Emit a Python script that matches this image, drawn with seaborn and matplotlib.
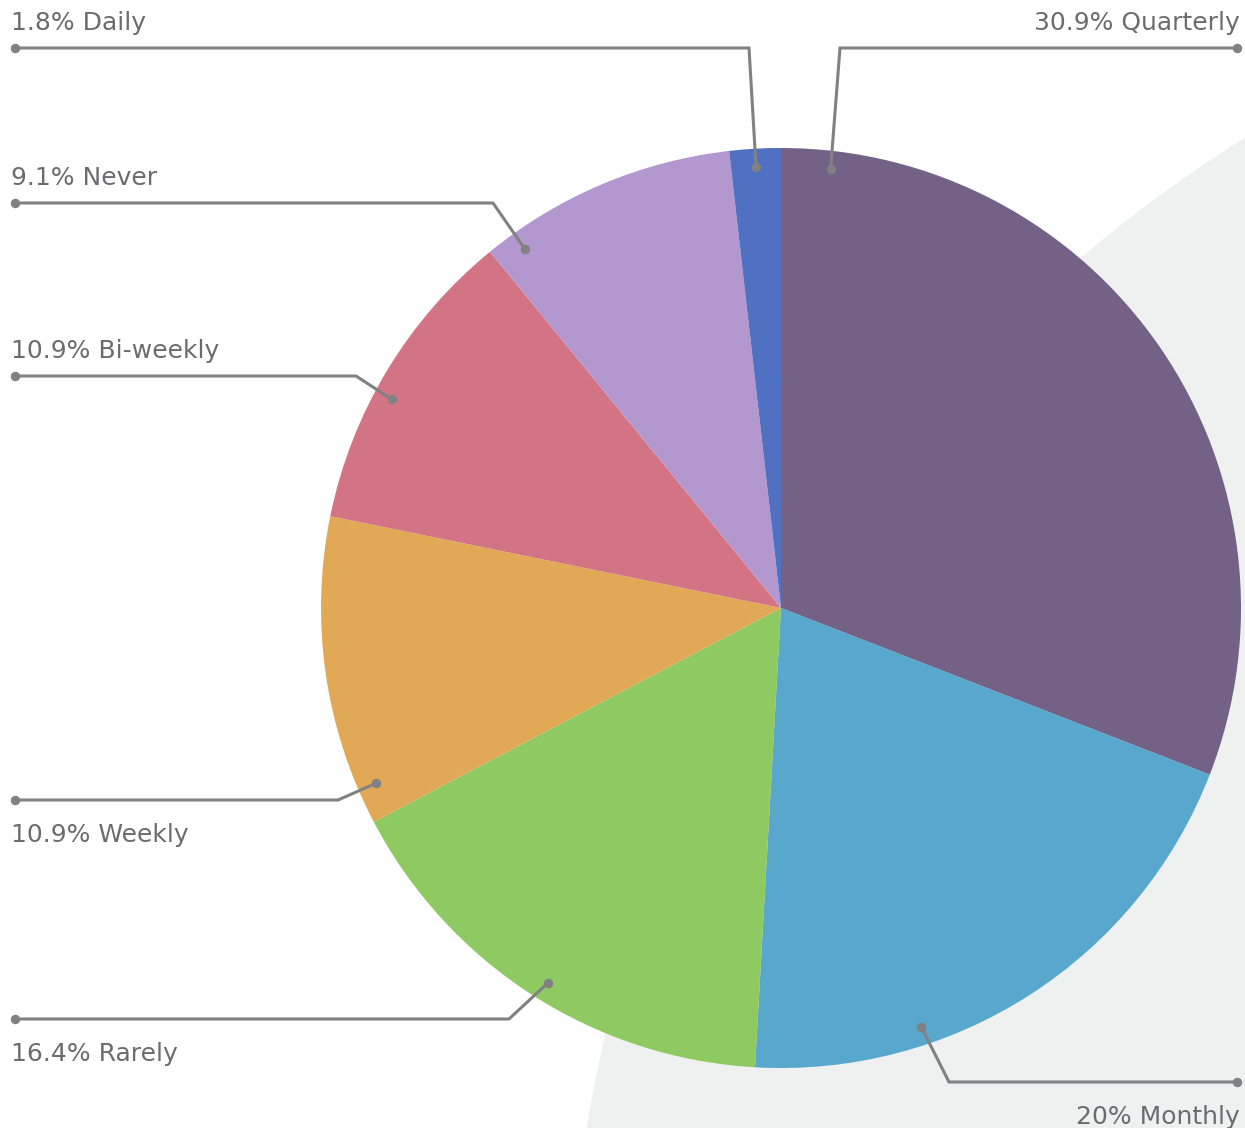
import matplotlib
matplotlib.use("Agg")
import numpy as np
import matplotlib.pyplot as plt
import seaborn as sns
from matplotlib.patches import Circle

# Survey shares, in pie order (clockwise from 12 o'clock)
categories = ["Quarterly", "Monthly", "Rarely", "Weekly", "Bi-weekly", "Never", "Daily"]
shares = [30.9, 20, 16.4, 10.9, 10.9, 9.1, 1.8]
share_labels = ["30.9%", "20%", "16.4%", "10.9%", "10.9%", "9.1%", "1.8%"]
colors = ["#736285", "#57a8cc", "#8fc962", "#e1a855", "#d37485", "#b397cf", "#5070c2"]

# Leader-line layout per slice: position of the anchor along the slice
# (0 = leading edge, 1 = trailing edge, going clockwise), elbow point in
# screen pixels, the side the label sits on, and text above/below the line.
anchor_frac = [0.058, 0.698, 0.485, 0.11, 0.425, 0.114, 0.5]
elbows = [(840, 48), (949, 1082), (509, 1019), (338, 800), (356, 376), (493, 203), (749, 48)]
sides = ["right", "right", "left", "left", "left", "left", "left"]
placement = ["above", "below", "below", "below", "above", "above", "above"]

W, H = 1245, 1128
sns.set_theme(style="white")
plt.rcParams["font.family"] = ["DejaVu Sans"]

fig = plt.figure(figsize=(W / 100, H / 100), dpi=100)
fig.patch.set_facecolor("white")
ax = fig.add_axes([0, 0, 1, 1])


def sy(y):
    """Convert a screen-pixel y (top-down) to axis y (bottom-up)."""
    return H - y


cx, cy, r = 781, sy(608), 460

# Decorative backdrop disc
ax.add_patch(Circle((2017, sy(1365)), 1450, facecolor="#eff1f0", lw=0, zorder=0))

wedges, _ = ax.pie(
    shares,
    colors=colors,
    startangle=90,
    counterclock=False,
    center=(cx, cy),
    radius=r,
    wedgeprops=dict(linewidth=0),
    frame=True,
)
for w in wedges:
    w.set_zorder(1)

line_col = "#818184"
text_col = "#6c6c70"

for i, w in enumerate(wedges):
    # clockwise pie: each slice begins at theta2 and runs down to theta1
    ang = np.deg2rad(w.theta2 - anchor_frac[i] * (w.theta2 - w.theta1))
    px = cx + 0.96 * r * np.cos(ang)
    py = cy + 0.96 * r * np.sin(ang)
    ex, ey = elbows[i][0], sy(elbows[i][1])
    endx = 1237 if sides[i] == "right" else 15
    ax.plot([px, ex, endx], [py, ey, ey], color=line_col, lw=2.2,
            solid_capstyle="round", solid_joinstyle="miter", zorder=3)
    ax.plot([px, endx], [py, ey], ls="none", marker="o", ms=5.8,
            color=line_col, zorder=4)
    txt = f"{share_labels[i]} {categories[i]}"
    ty = ey + 18 if placement[i] == "above" else ey - 42
    if sides[i] == "right":
        ax.text(1240, ty, txt, ha="right", va="baseline", fontsize=18,
                color=text_col, zorder=5)
    else:
        ax.text(11, ty, txt, ha="left", va="baseline", fontsize=18,
                color=text_col, zorder=5)

ax.set_xlim(0, W)
ax.set_ylim(0, H)
ax.set_aspect("equal")
ax.axis("off")

fig.savefig("out.png", dpi=100, facecolor="white")
